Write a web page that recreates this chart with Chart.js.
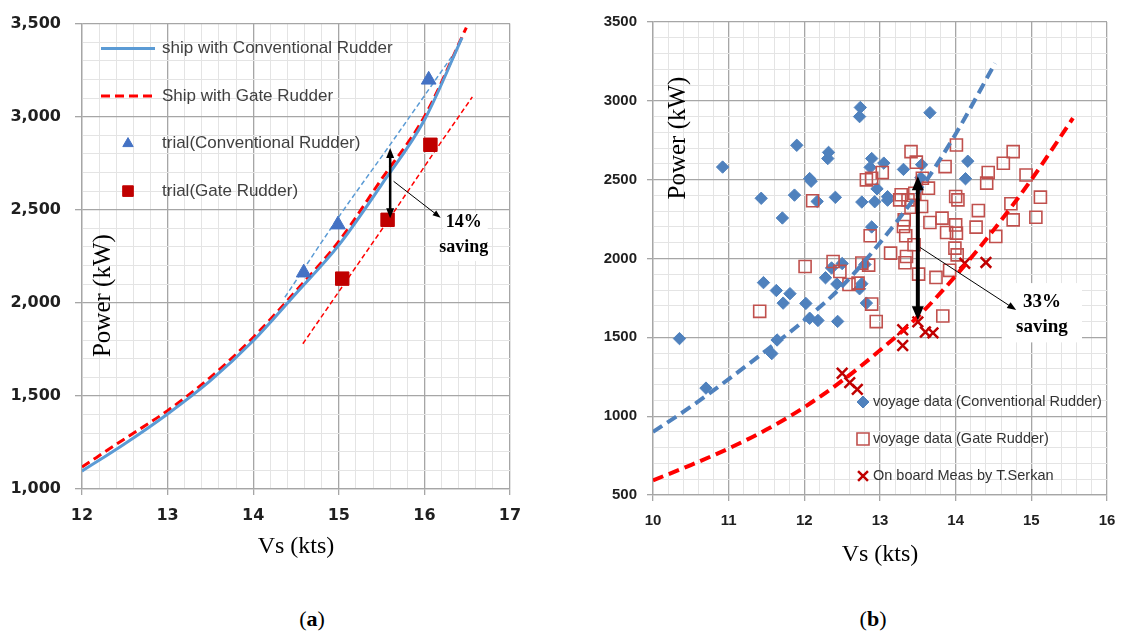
<!DOCTYPE html>
<html>
<head>
<meta charset="utf-8">
<script src="https://cdn.jsdelivr.net/npm/chart.js@4.4.1/dist/chart.umd.min.js"></script>
<style>
  body { margin: 0; background: #fff; width: 1148px; height: 637px; position: relative; overflow: hidden; }
  .panel { position: absolute; top: 0; height: 600px; }
  #left_panel { left: 0; width: 560px; }
  #right_panel { left: 560px; width: 588px; }
  .tag { position: absolute; top: 606px; font: 22px "Liberation Serif", serif; color: #000; transform: translateX(-50%); }
</style>
</head>
<body>
<div class="panel" id="left_panel"><canvas id="chart_a"></canvas></div>
<div class="panel" id="right_panel"><canvas id="chart_b"></canvas></div>
<div class="tag" style="left:312px">(<b>a</b>)</div>
<div class="tag" style="left:873px">(<b>b</b>)</div>
<script>
// ---- (a) sea trial ----
const a_x_labels = [12, 13, 14, 15, 16, 17];
const a_y_labels = [1000, 1500, 2000, 2500, 3000, 3500];

const conv_curve_vs = [12, 12.5, 13, 13.5, 14, 14.5, 15, 15.5, 16, 16.44];
const conv_curve_kw = [1096, 1243, 1403, 1582, 1796, 2050, 2310, 2635, 2982, 3425];
const gate_curve_vs = [12, 12.5, 13, 13.5, 14, 14.5, 15, 15.5, 16, 16.49];
const gate_curve_kw = [1118, 1270, 1421, 1600, 1814, 2064, 2330, 2665, 3000, 3479];

const trial_conv_vs = [14.59, 14.99, 16.05];
const trial_conv_kw = [2162, 2420, 3198];
const trial_gate_vs = [15.04, 15.57, 16.07];
const trial_gate_kw = [2130, 2446, 2849];

// thin fit lines through the trial points
const fit_conv_vs = [14.37, 15.0, 15.6, 16.32];
const fit_conv_kw = [2030, 2462, 2850, 3323];
const fit_gate_vs = [14.58, 15.0, 15.64, 16.16, 16.56];
const fit_gate_kw = [1780, 2060, 2486, 2840, 3106];

// ---- (b) voyage data ----
const b_x_labels = [10, 11, 12, 13, 14, 15, 16];
const b_y_labels = [500, 1000, 1500, 2000, 2500, 3000, 3500];

const voy_conv_vs = [10.35, 10.70, 10.92, 11.43, 11.46, 11.57, 11.64, 11.63, 11.71, 11.72, 11.81, 11.87,
  11.90, 12.02, 12.07, 12.09, 12.07, 12.18, 12.17, 12.28, 12.31, 12.32, 12.36, 12.41, 12.43, 12.44,
  12.50, 12.73, 12.74, 12.73, 12.76, 12.76, 12.82, 12.80, 12.87, 12.89, 12.89, 12.93, 12.96, 13.05,
  13.10, 13.10, 13.31, 13.54, 13.55, 13.66, 14.13, 14.16];
const voy_conv_kw = [1492, 1178, 2580, 2382, 1847, 1397, 1483, 1797, 2257, 1717, 1777, 2402,
  2718, 1715, 2507, 2490, 1621, 1607, 2362, 1878, 2634, 2673, 1940, 2388, 1838, 1601,
  1968, 2900, 2958, 1808, 1840, 2358, 1717, 1962, 2578, 2634, 2200, 2360, 2442, 2605,
  2370, 2392, 2565, 2512, 2595, 2925, 2506, 2617];

const voy_gate_vs = [11.41, 12.01, 12.11, 12.38, 12.47, 12.59, 12.71, 12.76, 12.85, 12.82, 12.89, 12.87,
  12.89, 12.95, 13.03, 13.14, 13.26, 13.28, 13.32, 13.31, 13.34, 13.33, 13.35, 13.37, 13.41, 13.41,
  13.45, 13.46, 13.48, 13.51, 13.55, 13.56, 13.64, 13.66, 13.74, 13.82, 13.83, 13.86, 13.88, 13.92,
  14.00, 14.03, 14.00, 14.01, 13.99, 14.02, 14.01, 14.27, 14.30, 14.41, 14.43, 14.53, 14.63, 14.73,
  14.76, 14.76, 14.93, 15.06, 15.12];
const voy_gate_kw = [1665, 1949, 2366, 1981, 1918, 1835, 1844, 1971, 1958, 2499, 2509, 2144,
  1711, 1600, 2545, 2034, 2372, 2404, 2245, 2203, 2144, 1973, 2013, 2372, 2325, 2678,
  2087, 2414, 2611, 1901, 2330, 2509, 2446, 2228, 1880, 2256, 1635, 2583, 2165, 1925,
  2393, 2372, 2213, 2161, 2066, 2023, 2720, 2199, 2304, 2478, 2545, 2140, 2604, 2347,
  2245, 2678, 2530, 2262, 2389];

const meas_vs = [12.50, 12.60, 12.70, 13.30, 13.30, 13.50, 13.60, 13.70, 14.12, 14.40];
const meas_kw = [1272, 1213, 1170, 1548, 1448, 1598, 1534, 1528, 1970, 1975];

const trend_conv_vs = [10, 10.5, 11, 11.5, 12, 12.5, 13, 13.5, 14, 14.52];
const trend_conv_kw = [900, 1060, 1235, 1418, 1608, 1825, 2100, 2415, 2790, 3238];
const trend_gate_vs = [10, 10.5, 11, 11.5, 12, 12.5, 13, 13.5, 14, 14.5, 15, 15.55];
const trend_gate_kw = [593, 690, 795, 915, 1057, 1225, 1418, 1631, 1890, 2180, 2500, 2890];

const MAJOR = "#a6a6a6";
const MINOR = "#e4e4e4";

const to_points = (xs, ys) => xs.map((x, i) => ({ x: x, y: ys[i] }));
const near = (v, list) => list.some((t) => Math.abs(t - v) < 1e-6);

const make_scales = (o) => ({
  x: {
    type: "linear",
    min: o.x_min,
    max: o.x_max,
    afterFit: (s) => { s.height = 80; },
    ticks: {
      stepSize: 0.2, autoSkip: false, maxRotation: 0, padding: o.x_pad,
      color: "#1f1f1f", font: o.tick_font,
      callback: (v) => (near(v, o.x_labels) ? String(Math.round(v)) : ""),
    },
    grid: {
      color: (c) => (c.tick && near(c.tick.value, o.x_labels) ? MAJOR : MINOR),
      lineWidth: (c) => (c.tick && near(c.tick.value, o.x_labels) ? 1.3 : 1),
      tickColor: (c) => (c.tick && near(c.tick.value, o.x_labels) ? MAJOR : "rgba(0,0,0,0)"),
      tickLength: 6,
    },
    border: { color: MAJOR, width: 1.3 },
    title: {
      display: true, text: "Vs (kts)", color: "#000",
      font: { family: "Liberation Serif", size: 24 },
      padding: { top: 0, bottom: o.title_pad },
    },
  },
  y: {
    type: "linear",
    min: o.y_min,
    max: o.y_max,
    afterFit: (s) => { s.width = o.y_width; },
    ticks: {
      stepSize: 100, autoSkip: false, padding: o.y_pad,
      color: "#1f1f1f", font: o.tick_font,
      callback: (v) => (near(v, o.y_labels) ? o.y_fmt(v) : ""),
    },
    grid: {
      color: (c) => (c.tick && near(c.tick.value, o.y_labels) ? MAJOR : MINOR),
      lineWidth: (c) => (c.tick && near(c.tick.value, o.y_labels) ? 1.3 : 1),
      tickColor: (c) => (c.tick && near(c.tick.value, o.y_labels) ? MAJOR : "rgba(0,0,0,0)"),
      tickLength: o.y_tick,
    },
    border: { color: MAJOR, width: 1.3 },
  },
});

// markers for the legend drawn inside the plot
const draw_marker = (ctx, style, x, y, r) => {
  ctx.beginPath();
  if (style === "triangle") {
    for (let k = 0; k < 3; k++) {
      const a = k * 2 * Math.PI / 3;
      ctx[k ? "lineTo" : "moveTo"](x + Math.sin(a) * r, y - Math.cos(a) * r);
    }
    ctx.closePath();
  } else if (style === "rect") {
    const h = r * Math.SQRT1_2;
    ctx.rect(x - h, y - h, 2 * h, 2 * h);
  } else if (style === "rectRot") {
    ctx.moveTo(x, y - r); ctx.lineTo(x + r, y); ctx.lineTo(x, y + r); ctx.lineTo(x - r, y);
    ctx.closePath();
  } else if (style === "crossRot") {
    const h = r * Math.SQRT1_2;
    ctx.moveTo(x - h, y - h); ctx.lineTo(x + h, y + h);
    ctx.moveTo(x + h, y - h); ctx.lineTo(x - h, y + h);
  }
  if (style !== "crossRot") ctx.fill();
  ctx.stroke();
};

const inside_legend = {
  id: "inside_legend",
  afterDraw(chart, args, opts) {
    const { ctx, chartArea } = chart;
    ctx.save();
    chart.data.datasets.forEach((ds) => {
      if (ds.legend_row === undefined) return;
      const cy = chartArea.top + opts.top + ds.legend_row * opts.gap;
      const mx = chartArea.left + opts.marker_x;
      if (ds.showLine) {
        ctx.strokeStyle = ds.borderColor;
        ctx.lineWidth = ds.borderWidth;
        ctx.setLineDash(ds.borderDash || []);
        ctx.beginPath();
        ctx.moveTo(mx - opts.line_len / 2, cy);
        ctx.lineTo(mx + opts.line_len / 2, cy);
        ctx.stroke();
        ctx.setLineDash([]);
      } else {
        ctx.fillStyle = ds.pointBackgroundColor;
        ctx.strokeStyle = ds.pointBorderColor;
        ctx.lineWidth = ds.pointBorderWidth;
        draw_marker(ctx, ds.pointStyle, mx, cy, ds.legend_r);
      }
      ctx.fillStyle = opts.color;
      ctx.font = opts.font;
      ctx.textBaseline = "middle";
      ctx.textAlign = "left";
      ctx.fillText(ds.label, chartArea.left + opts.text_x, cy);
    });
    ctx.restore();
  },
};

const draw_arrow = (ctx, x1, y1, x2, y2, o) => {
  const ang = Math.atan2(y2 - y1, x2 - x1);
  const head = (x, y, a) => {
    const bx = x - o.head_len * Math.cos(a);
    const by = y - o.head_len * Math.sin(a);
    ctx.beginPath();
    ctx.moveTo(x, y);
    ctx.lineTo(bx + (o.head_w / 2) * Math.sin(a), by - (o.head_w / 2) * Math.cos(a));
    ctx.lineTo(bx - (o.head_w / 2) * Math.sin(a), by + (o.head_w / 2) * Math.cos(a));
    ctx.closePath();
    ctx.fill();
  };
  const cut = o.head_len * 0.8;
  const sx = o.both ? x1 + cut * Math.cos(ang) : x1;
  const sy = o.both ? y1 + cut * Math.sin(ang) : y1;
  ctx.lineWidth = o.width;
  ctx.beginPath();
  ctx.moveTo(sx, sy);
  ctx.lineTo(x2 - cut * Math.cos(ang), y2 - cut * Math.sin(ang));
  ctx.stroke();
  head(x2, y2, ang);
  if (o.both) head(x1, y1, ang + Math.PI);
};

// arrows, "saving" notes and the inner y title
const notes = {
  id: "notes",
  afterDraw(chart, args, opts) {
    const { ctx, chartArea, scales: { x, y } } = chart;
    const px = (v) => x.getPixelForValue(v);
    const py = (v) => y.getPixelForValue(v);
    ctx.save();
    (opts.boxes || []).forEach((b) => {
      ctx.fillStyle = "#fff";
      ctx.fillRect(px(b[0]), py(b[1]), px(b[2]) - px(b[0]), py(b[3]) - py(b[1]));
    });
    (opts.arrows || []).forEach((a) => {
      ctx.strokeStyle = a.color || "#000";
      ctx.fillStyle = a.color || "#000";
      draw_arrow(ctx, px(a.from[0]), py(a.from[1]), px(a.to[0]), py(a.to[1]), a);
    });
    ctx.fillStyle = "#000";
    ctx.textAlign = "center";
    ctx.textBaseline = "middle";
    ctx.font = opts.note_font;
    (opts.texts || []).forEach((t) => ctx.fillText(t.text, px(t.at[0]), py(t.at[1])));
    ctx.font = '25px "Liberation Serif"';
    ctx.translate(chartArea.left + opts.title_dx, chartArea.top + opts.title_dy);
    ctx.rotate(-Math.PI / 2);
    ctx.fillText("Power (kW)", 0, 0);
    ctx.restore();
  },
};

new Chart(document.getElementById("chart_a"), {
  type: "scatter",
  plugins: [inside_legend, notes],
  data: {
    datasets: [
      {
        label: "trial(Conventional Rudder)",
        data: to_points(trial_conv_vs, trial_conv_kw),
        pointStyle: "triangle", pointRadius: 8.5, legend_r: 6,
        pointBackgroundColor: "#4472c4", pointBorderColor: "#4472c4", pointBorderWidth: 1,
        legend_row: 2, order: 0,
      },
      {
        label: "trial(Gate Rudder)",
        data: to_points(trial_gate_vs, trial_gate_kw),
        pointStyle: "rect", pointRadius: 9.5, legend_r: 7.5,
        pointBackgroundColor: "#c00000", pointBorderColor: "#c00000", pointBorderWidth: 1,
        legend_row: 3, order: 0,
      },
      {
        label: "ship with Conventional Rudder",
        data: to_points(conv_curve_vs, conv_curve_kw),
        showLine: true, pointRadius: 0, borderColor: "#5b9bd5", borderWidth: 3,
        cubicInterpolationMode: "monotone", legend_row: 0, order: 1,
      },
      {
        label: "Ship with Gate Rudder",
        data: to_points(gate_curve_vs, gate_curve_kw),
        showLine: true, pointRadius: 0, borderColor: "#ff0000", borderWidth: 3, borderDash: [9, 5],
        cubicInterpolationMode: "monotone", legend_row: 1, order: 1,
      },
      {
        label: "fit conventional",
        data: to_points(fit_conv_vs, fit_conv_kw),
        showLine: true, pointRadius: 0, borderColor: "#5b9bd5", borderWidth: 1.5, borderDash: [5, 3],
        cubicInterpolationMode: "monotone", order: 1,
      },
      {
        label: "fit gate",
        data: to_points(fit_gate_vs, fit_gate_kw),
        showLine: true, pointRadius: 0, borderColor: "#ff0000", borderWidth: 1.5, borderDash: [5, 3],
        cubicInterpolationMode: "monotone", order: 1,
      },
    ],
  },
  options: {
    responsive: true,
    maintainAspectRatio: false,
    devicePixelRatio: 1,
    animation: false,
    events: [],
    layout: { autoPadding: false, padding: { left: 0, right: 50, top: 22, bottom: 31 } },
    scales: make_scales({
      x_min: 12, x_max: 17, y_min: 1000, y_max: 3500,
      x_labels: a_x_labels, y_labels: a_y_labels,
      y_fmt: (v) => v.toLocaleString("en-US"),
      tick_font: { family: "DejaVu Sans", size: 16, weight: "bold" },
      x_pad: 11, y_pad: 14, y_tick: 7, y_width: 82, title_pad: 7.6,
    }),
    plugins: {
      legend: { display: false },
      tooltip: { enabled: false },
      inside_legend: { font: '17px "Liberation Sans"', color: "#404040", top: 25, gap: 47.5, marker_x: 46, line_len: 54, text_x: 80 },
      notes: {
        boxes: [[16.22, 2485, 16.74, 2225]],
        arrows: [
          { from: [15.6, 2455], to: [15.6, 2832], both: true, width: 2.5, head_len: 10, head_w: 8 },
          { from: [15.64, 2653], to: [16.19, 2457], both: false, width: 1, head_len: 8, head_w: 6 },
        ],
        note_font: 'bold 18px "Liberation Serif"',
        texts: [{ text: "14%", at: [16.46, 2430] }, { text: "saving", at: [16.46, 2296] }],
        title_dx: 21, title_dy: 272,
      },
    },
  },
});

new Chart(document.getElementById("chart_b"), {
  type: "scatter",
  plugins: [inside_legend, notes],
  data: {
    datasets: [
      {
        label: "trend conventional",
        data: to_points(trend_conv_vs, trend_conv_kw),
        showLine: true, pointRadius: 0, borderColor: "#4f81bd", borderWidth: 4, borderDash: [11, 6],
        cubicInterpolationMode: "monotone", order: 0,
      },
      {
        label: "trend gate",
        data: to_points(trend_gate_vs, trend_gate_kw),
        showLine: true, pointRadius: 0, borderColor: "#ff0000", borderWidth: 4, borderDash: [11, 6],
        cubicInterpolationMode: "monotone", order: 0,
      },
      {
        label: "On board Meas by T.Serkan",
        data: to_points(meas_vs, meas_kw),
        pointStyle: "crossRot", pointRadius: 7.5, legend_r: 7,
        pointBackgroundColor: "#c00000", pointBorderColor: "#c00000", pointBorderWidth: 2.5,
        legend_row: 2, order: 1,
      },
      {
        label: "voyage data (Gate Rudder)",
        data: to_points(voy_gate_vs, voy_gate_kw),
        pointStyle: "rect", pointRadius: 8.5, legend_r: 8.5,
        pointBackgroundColor: "rgba(0,0,0,0)", pointBorderColor: "#c0504d", pointBorderWidth: 1.6,
        legend_row: 1, order: 2,
      },
      {
        label: "voyage data (Conventional Rudder)",
        data: to_points(voy_conv_vs, voy_conv_kw),
        pointStyle: "rectRot", pointRadius: 6.2, legend_r: 6,
        pointBackgroundColor: "#4f81bd", pointBorderColor: "#4f81bd", pointBorderWidth: 1,
        legend_row: 0, order: 3,
      },
    ],
  },
  options: {
    responsive: true,
    maintainAspectRatio: false,
    devicePixelRatio: 1,
    animation: false,
    events: [],
    layout: { autoPadding: false, padding: { left: 0, right: 41, top: 22, bottom: 25 } },
    scales: make_scales({
      x_min: 10, x_max: 16, y_min: 500, y_max: 3500,
      x_labels: b_x_labels, y_labels: b_y_labels,
      y_fmt: (v) => String(v),
      tick_font: { family: "Liberation Sans", size: 15, weight: "bold" },
      x_pad: 10.5, y_pad: 10, y_tick: 6, y_width: 93, title_pad: 5.6,
    }),
    plugins: {
      legend: { display: false },
      tooltip: { enabled: false },
      inside_legend: { font: '14.5px "Liberation Sans"', color: "#333", top: 380, gap: 37, marker_x: 210, text_x: 220, line_len: 0 },
      notes: {
        boxes: [[14.61, 1844, 15.67, 1468]],
        arrows: [
          { from: [13.5, 1608], to: [13.5, 2522], both: true, width: 4, head_len: 14, head_w: 12 },
          { from: [13.53, 2070], to: [14.80, 1673], both: false, width: 1, head_len: 9, head_w: 7 },
        ],
        note_font: 'bold 19px "Liberation Serif"',
        texts: [{ text: "33%", at: [15.14, 1722] }, { text: "saving", at: [15.14, 1563] }],
        title_dx: 25, title_dy: 116,
      },
    },
  },
});
</script>
</body>
</html>
